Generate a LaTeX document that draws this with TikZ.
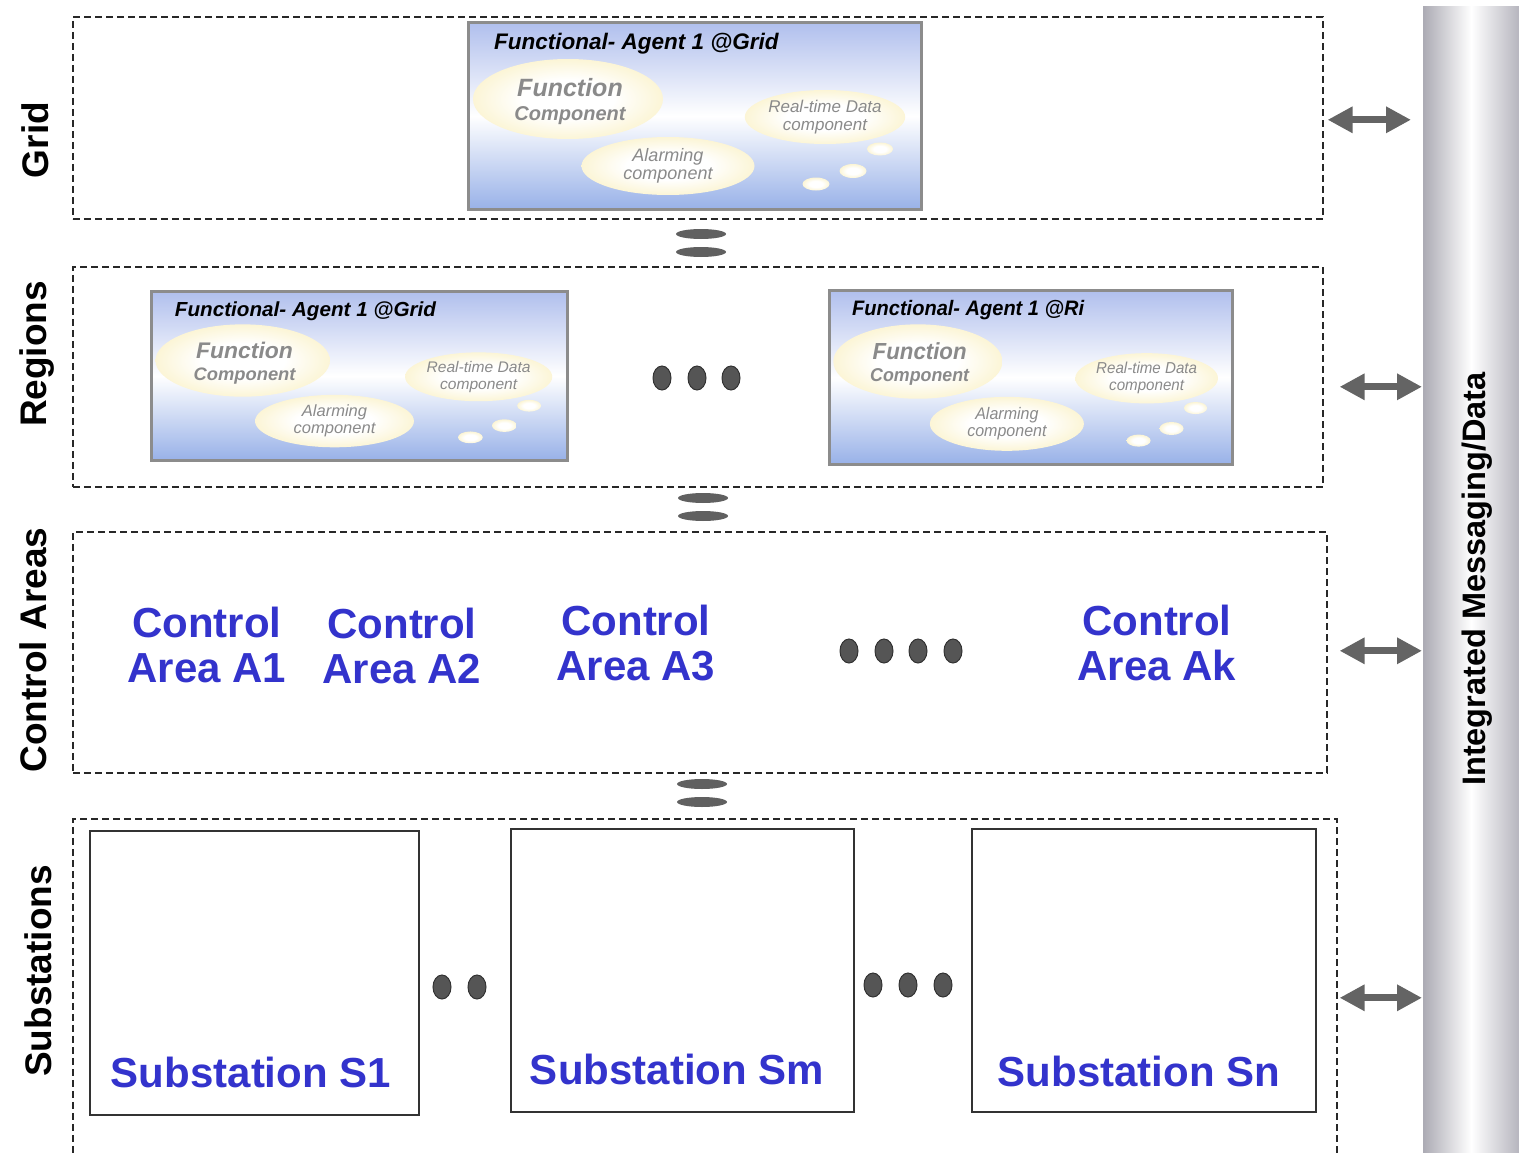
\documentclass[tikz,border=0pt]{standalone}
\usepackage{fontspec}
\newfontfamily\arial{Liberation Sans}
\usetikzlibrary{shapes.geometric,arrows.meta}

\definecolor{areablue}{RGB}{51,51,204}
\definecolor{compgray}{RGB}{138,138,138}
\definecolor{framegray}{RGB}{140,140,140}
\definecolor{panetop}{RGB}{176,191,237}
\definecolor{panebottom}{RGB}{152,177,232}
\definecolor{glowyellow}{RGB}{245,226,135}
\definecolor{linkgray}{RGB}{96,96,96}
\definecolor{dotgray}{RGB}{85,85,85}
\definecolor{arrowgray}{RGB}{100,100,100}
\definecolor{barleft}{RGB}{172,171,180}
\definecolor{barright}{RGB}{182,181,190}
\definecolor{dashblack}{RGB}{40,40,40}

% soft yellow glow used for the component bubbles
\pgfdeclareradialshading{glow}{\pgfpoint{0bp}{0bp}}{color(0bp)=(white); color(12bp)=(white); color(50bp)=(glowyellow)}

\tikzset{
  tierbox/.style={draw=dashblack, line width=1.6pt, dash pattern=on 7pt off 4pt,
    anchor=north west, inner sep=0pt},
  tierlabel/.style={rotate=90, inner sep=0pt, text=black,
    font=\arial\bfseries\fontsize{37}{40}\selectfont},
  pane/.style={draw=framegray, line width=3pt, top color=panetop,
    bottom color=panebottom, middle color=white, anchor=north west,
    minimum width=453pt, minimum height=187pt, inner sep=0pt},
  panetitle/.style={anchor=west, inner sep=0pt, text=black,
    font=\arial\bfseries\itshape\fontsize{22.5}{24}\selectfont},
  glowbubble/.style={ellipse, shading=glow, inner sep=0pt, text=compgray,
    align=center},
  areatext/.style={align=center, text=areablue, inner sep=0pt,
    font=\arial\bfseries\fontsize{42}{45}\selectfont},
  ellipsisdot/.style={ellipse, fill=dotgray, draw=black!80, line width=1pt,
    minimum width=18pt, minimum height=24pt, inner sep=0pt},
  linkbar/.style={ellipse, fill=linkgray, minimum width=50pt,
    minimum height=10pt, inner sep=0pt},
  biarrow/.style={draw=arrowgray, line width=7pt,
    {Triangle[length=25pt,width=25pt]}-{Triangle[length=25pt,width=25pt]}},
  station/.style={draw=black!80, line width=2pt, anchor=north west, inner sep=0pt},
  stationtext/.style={text=areablue, inner sep=0pt,
    font=\arial\bfseries\fontsize{42}{45}\selectfont},
  pics/agent/.style={code={
    \node[pane] (-pane) at (0,0) {};
    \node[panetitle] (-title) at (27,23) {#1};
    \node[glowbubble, minimum width=190pt, minimum height=80pt] (-func) at (101,78) {};
    \node[text=compgray, align=center, inner sep=0pt,
          font=\arial\bfseries\itshape\fontsize{20}{24}\selectfont] (-functext) at (103,81)
      {{\fontsize{25}{24}\selectfont Function}\\Component};
    \node[glowbubble, minimum width=156pt, minimum height=54pt,
          font=\arial\itshape\fontsize{17}{18.5}\selectfont] (-data) at (358,96)
      {Real-time Data\\component};
    \node[glowbubble, minimum width=173pt, minimum height=58pt,
          font=\arial\itshape\fontsize{18}{18.5}\selectfont] (-alarm) at (201,145)
      {Alarming\\component};
    \node[glowbubble, minimum width=26pt, minimum height=13pt] (-b1) at (413,128) {};
    \node[glowbubble, minimum width=27pt, minimum height=14pt] (-b2) at (386,150) {};
    \node[glowbubble, minimum width=27pt, minimum height=13pt] (-b3) at (349,163) {};
  }}
}

\begin{document}
\begin{tikzpicture}[x=1pt, y=-1pt]
\useasboundingbox (0,0) rectangle (1519,1156);

% tiers
\node[tierbox, minimum width=1250pt, minimum height=202pt] (grid) at (72,16) {};
\node[tierbox, minimum width=1250pt, minimum height=220pt] (regions) at (72,266) {};
\node[tierbox, minimum width=1254pt, minimum height=241pt] (areas) at (72,531) {};
\node[tierbox, minimum width=1264pt, minimum height=357pt] (subs) at (72,818) {};

\node[tierlabel] (gridlbl) at (35,140) {Grid};
\node[tierlabel] (regionslbl) at (37,354) {Regions};
\node[tierlabel] (areaslbl) at (33,650) {Control Areas};
\node[tierlabel] (subslbl) at (38,971) {Substations};

% functional agents
\pic (ga) at (467,21) {agent={Functional- Agent 1 @Grid}};
\pic[xscale=0.918, yscale=0.904, transform shape] (r1) at (150,290) {agent={Functional- Agent 1 @Grid}};
\pic[xscale=0.89, yscale=0.93, transform shape] (ri) at (828,289) {agent={Functional- Agent 1 @Ri}};

\node[ellipsisdot] (rd1) at (662,378) {};
\node[ellipsisdot] (rd2) at (697,378) {};
\node[ellipsisdot] (rd3) at (731,378) {};

% control areas
\node[areatext] (a1) at (207,645) {Control\\Area A1};
\node[areatext] (a2) at (402,646) {Control\\Area A2};
\node[areatext] (a3) at (636,643) {Control\\Area A3};
\node[areatext] (ak) at (1157,643) {Control\\Area Ak};
\node[ellipsisdot] (ad1) at (849,651) {};
\node[ellipsisdot] (ad2) at (884,651) {};
\node[ellipsisdot] (ad3) at (918,651) {};
\node[ellipsisdot] (ad4) at (953,651) {};

% substations
\node[station, minimum width=329pt, minimum height=284pt] (s1) at (89,830) {};
\node[station, minimum width=343pt, minimum height=283pt] (sm) at (510,828) {};
\node[station, minimum width=344pt, minimum height=283pt] (sn) at (971,828) {};
\node[stationtext] (s1t) at (251,1072) {Substation S1};
\node[stationtext] (smt) at (677,1069) {Substation Sm};
\node[stationtext] (snt) at (1139,1071) {Substation Sn};
\node[ellipsisdot] (sd1) at (442,987) {};
\node[ellipsisdot] (sd2) at (477,987) {};
\node[ellipsisdot] (sd3) at (873,985) {};
\node[ellipsisdot] (sd4) at (908,985) {};
\node[ellipsisdot] (sd5) at (943,985) {};

% links between tiers
\node[linkbar] (l1a) at (701,234) {};
\node[linkbar] (l1b) at (701,252) {};
\node[linkbar] (l2a) at (703,498) {};
\node[linkbar] (l2b) at (703,516) {};
\node[linkbar] (l3a) at (702,784) {};
\node[linkbar] (l3b) at (702,802) {};

% messaging bus
\node[left color=barleft, right color=barright, middle color=white,
      minimum width=96pt, minimum height=1146pt, anchor=north west, inner sep=0pt]
      (bus) at (1423,6) {};
\node[rotate=90, inner sep=0pt, font=\arial\bfseries\fontsize{32.5}{36}\selectfont]
      (buslbl) at (1477,579) {Integrated Messaging/Data};

% tier-to-bus arrows
\coordinate (gA) at ([xshift=4pt,yshift=-2pt]grid.east);
\coordinate (rA) at ([xshift=16pt,yshift=-10pt]regions.east);
\coordinate (aA) at ([xshift=12pt,yshift=1.5pt]areas.east);
\coordinate (sA) at ([xshift=2pt,yshift=-0.5pt]subs.east);
\draw[biarrow, shorten >=12pt] (gA) -- (gA -| bus.west);
\draw[biarrow, shorten >=1pt] (rA) -- (rA -| bus.west);
\draw[biarrow, shorten >=1pt] (aA) -- (aA -| bus.west);
\draw[biarrow, shorten >=1pt] (sA) -- (sA -| bus.west);
\end{tikzpicture}
\end{document}
